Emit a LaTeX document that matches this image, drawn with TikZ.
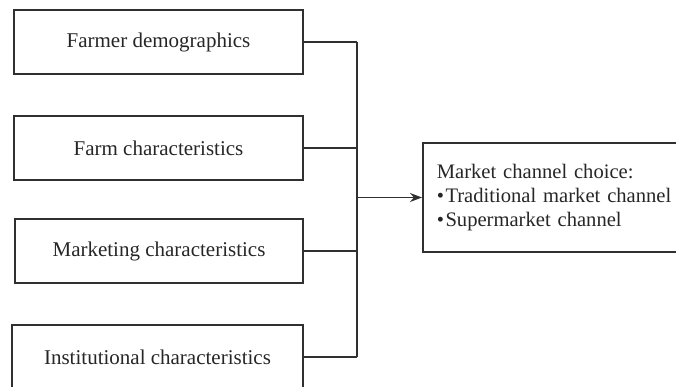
\documentclass[tikz,border=0pt]{standalone}
\usepackage{fontspec}
\setmainfont{Liberation Serif}
\usetikzlibrary{arrows.meta}
\definecolor{linegray}{HTML}{303030}
\begin{document}
\begin{tikzpicture}[x=1pt,y=-1pt,
  factor/.style={draw=linegray,line width=1.6pt,minimum height=64pt,inner sep=0pt,
    font=\fontsize{21}{24}\selectfont,text=black!85},
  conn/.style={draw=linegray,line width=1.6pt}]
\useasboundingbox (0,0) rectangle (676,387);
\node[factor,minimum width=289pt] (b1) at (158.5,42) {Farmer demographics};
\node[factor,minimum width=289pt] (b2) at (158.5,148) {Farm characteristics};
\node[factor,minimum width=288pt] (b3) at (159,251) {Marketing characteristics};
\node[factor,minimum width=291pt] (b4) at (157.5,357) {Institutional characteristics};
\node[draw=linegray,line width=1.6pt,minimum height=109pt,text width=260pt,inner xsep=14pt,
  inner ysep=0pt,align=left,anchor=west,font=\fontsize{20.6}{24}\selectfont,text=black!85]
  (out) at (422,197.5) {Market channel choice:\\\textbullet\hspace{1.5pt}Traditional market channel\\\textbullet\hspace{1.5pt}Supermarket channel};
\coordinate (bus) at (357,0);
\draw[conn] (b1.east) -- (b1.east -| bus);
\draw[conn] (b2.east) -- (b2.east -| bus);
\draw[conn] (b3.east) -- (b3.east -| bus);
\draw[conn] (b4.east) -- (b4.east -| bus);
\draw[conn] (b1.east -| bus) -- (b4.east -| bus);
\draw[conn,-{Stealth[length=12pt,width=9pt]}] (out.west -| bus) -- (out.west);
\end{tikzpicture}
\end{document}
